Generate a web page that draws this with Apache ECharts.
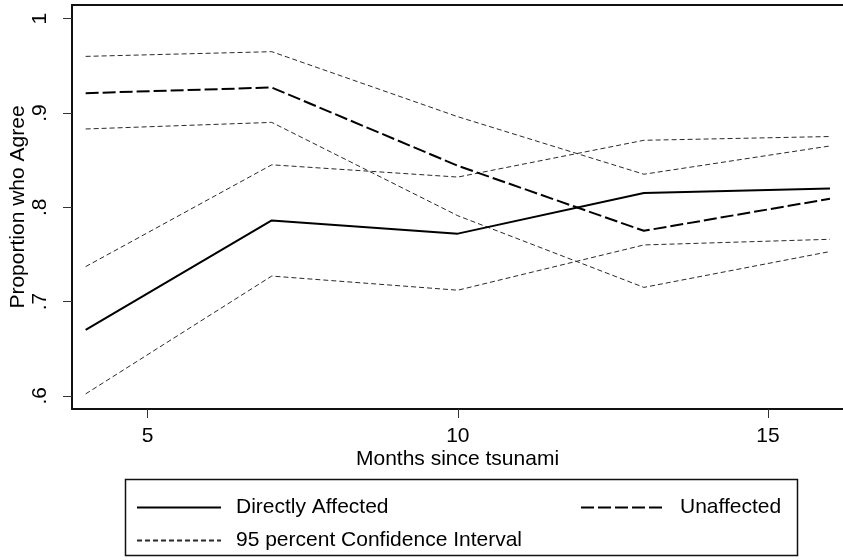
<!DOCTYPE html>
<html>
<head>
<meta charset="utf-8">
<title>Proportion who Agree by months since tsunami</title>
<script src="https://cdn.jsdelivr.net/npm/echarts@6/dist/echarts.min.js"></script>
<style>
  html, body { margin: 0; padding: 0; background: #fff; }
  #chart { width: 843px; height: 560px; }
</style>
</head>
<body>
<div id="chart"></div>
<script>
// Survey waves (months since the tsunami)
const months = [4, 7, 10, 13, 16];

// Proportion who agree, by group
const directlyAffected = [0.670, 0.786, 0.772, 0.815, 0.820];
const unaffected       = [0.921, 0.927, 0.844, 0.775, 0.809];

// 95 percent confidence bounds
const directlyUpper = [0.737, 0.845, 0.832, 0.871, 0.875];
const directlyLower = [0.602, 0.727, 0.712, 0.760, 0.766];
const unaffectedUpper = [0.960, 0.965, 0.896, 0.835, 0.865];
const unaffectedLower = [0.883, 0.890, 0.791, 0.715, 0.753];

// Tick positions
const xTicks = [5, 10, 15];
const yTicks = [0.6, 0.7, 0.8, 0.9, 1];

const FONT = 'Liberation Sans, Arial, Helvetica, sans-serif';
const FS = 21;
const CI_NAME = '95 percent Confidence Interval';
const X_MIN = 3.78, X_MAX = 16.21;

const pairs = ys => months.map((m, i) => [m, ys[i]]);

const frameLine = { show: true, lineStyle: { color: '#111', width: 2 } };
const ciStyle = { color: '#2a2a2a', width: 1, type: [5, 3] };

function ciSeries(ys) {
  return {
    name: CI_NAME, type: 'line', data: pairs(ys),
    symbol: 'none', silent: true, z: 2,
    lineStyle: ciStyle, itemStyle: { color: '#2a2a2a' }
  };
}

const legendText = { fontFamily: FONT, fontSize: FS, color: '#000', padding: [0, 0, 0, 10] };

const chart = echarts.init(document.getElementById('chart'), null, { renderer: 'canvas' });

chart.setOption({
  animation: false,
  backgroundColor: '#ffffff',
  textStyle: { fontFamily: FONT },
  grid: {
    left: 72, right: 0, top: 5, bottom: 151,
    outerBoundsMode: 'none', containLabel: false, show: false
  },
  xAxis: [
    {
      type: 'value', min: X_MIN, max: X_MAX, position: 'bottom',
      name: 'Months since tsunami', nameLocation: 'middle', nameGap: 40,
      nameMoveOverlap: false,
      nameTextStyle: { fontFamily: FONT, fontSize: FS, color: '#000' },
      axisLine: frameLine,
      splitLine: { show: false },
      axisTick: { show: true, length: 9, inside: false, customValues: xTicks,
        lineStyle: { color: '#333', width: 1 } },
      axisLabel: { customValues: xTicks, margin: 17, fontFamily: FONT, fontSize: FS, color: '#000' }
    },
    {
      // top edge of the plot frame
      type: 'value', min: X_MIN, max: X_MAX, position: 'top',
      axisLine: frameLine,
      axisTick: { show: false }, axisLabel: { show: false }, splitLine: { show: false }
    }
  ],
  yAxis: {
    type: 'value', min: 0.586, max: 1.0145,
    name: 'Proportion who Agree', nameLocation: 'middle', nameGap: 43,
    nameMoveOverlap: false,
    nameTextStyle: { fontFamily: FONT, fontSize: FS, color: '#000' },
    axisLine: frameLine,
    splitLine: { show: false },
    axisTick: { show: true, length: 9, customValues: yTicks,
      lineStyle: { color: '#333', width: 1 } },
    axisLabel: {
      customValues: yTicks, rotate: 90, margin: 21,
      fontFamily: FONT, fontSize: FS, color: '#000',
      formatter: v => (Math.abs(v - 1) < 1e-9 ? '1' : String(+v.toFixed(1)).replace(/^0/, ''))
    }
  },
  legend: [
    {
      orient: 'vertical', left: 131, top: 492,
      itemWidth: 84, itemHeight: 16, itemGap: 12,
      itemStyle: { opacity: 0 },
      textStyle: legendText,
      data: ['Directly Affected', CI_NAME],
      selectedMode: false
    },
    {
      orient: 'vertical', left: 575, top: 492,
      itemWidth: 84, itemHeight: 16,
      itemStyle: { opacity: 0 },
      textStyle: legendText,
      data: ['Unaffected'],
      selectedMode: false
    }
  ],
  graphic: [
    {
      type: 'rect', left: 123, top: 477, silent: true,
      shape: { width: 672, height: 76 },
      style: { fill: 'none', stroke: '#111', lineWidth: 1.5 }
    }
  ],
  series: [
    ciSeries(directlyUpper),
    ciSeries(directlyLower),
    ciSeries(unaffectedUpper),
    ciSeries(unaffectedLower),
    {
      name: 'Directly Affected', type: 'line', data: pairs(directlyAffected),
      symbol: 'none', z: 4,
      lineStyle: { color: '#000', width: 2, type: 'solid' },
      itemStyle: { color: '#000' }
    },
    {
      name: 'Unaffected', type: 'line', data: pairs(unaffected),
      symbol: 'none', z: 4,
      lineStyle: { color: '#000', width: 2, type: [13, 4] },
      itemStyle: { color: '#000' }
    }
  ]
});
</script>
</body>
</html>
